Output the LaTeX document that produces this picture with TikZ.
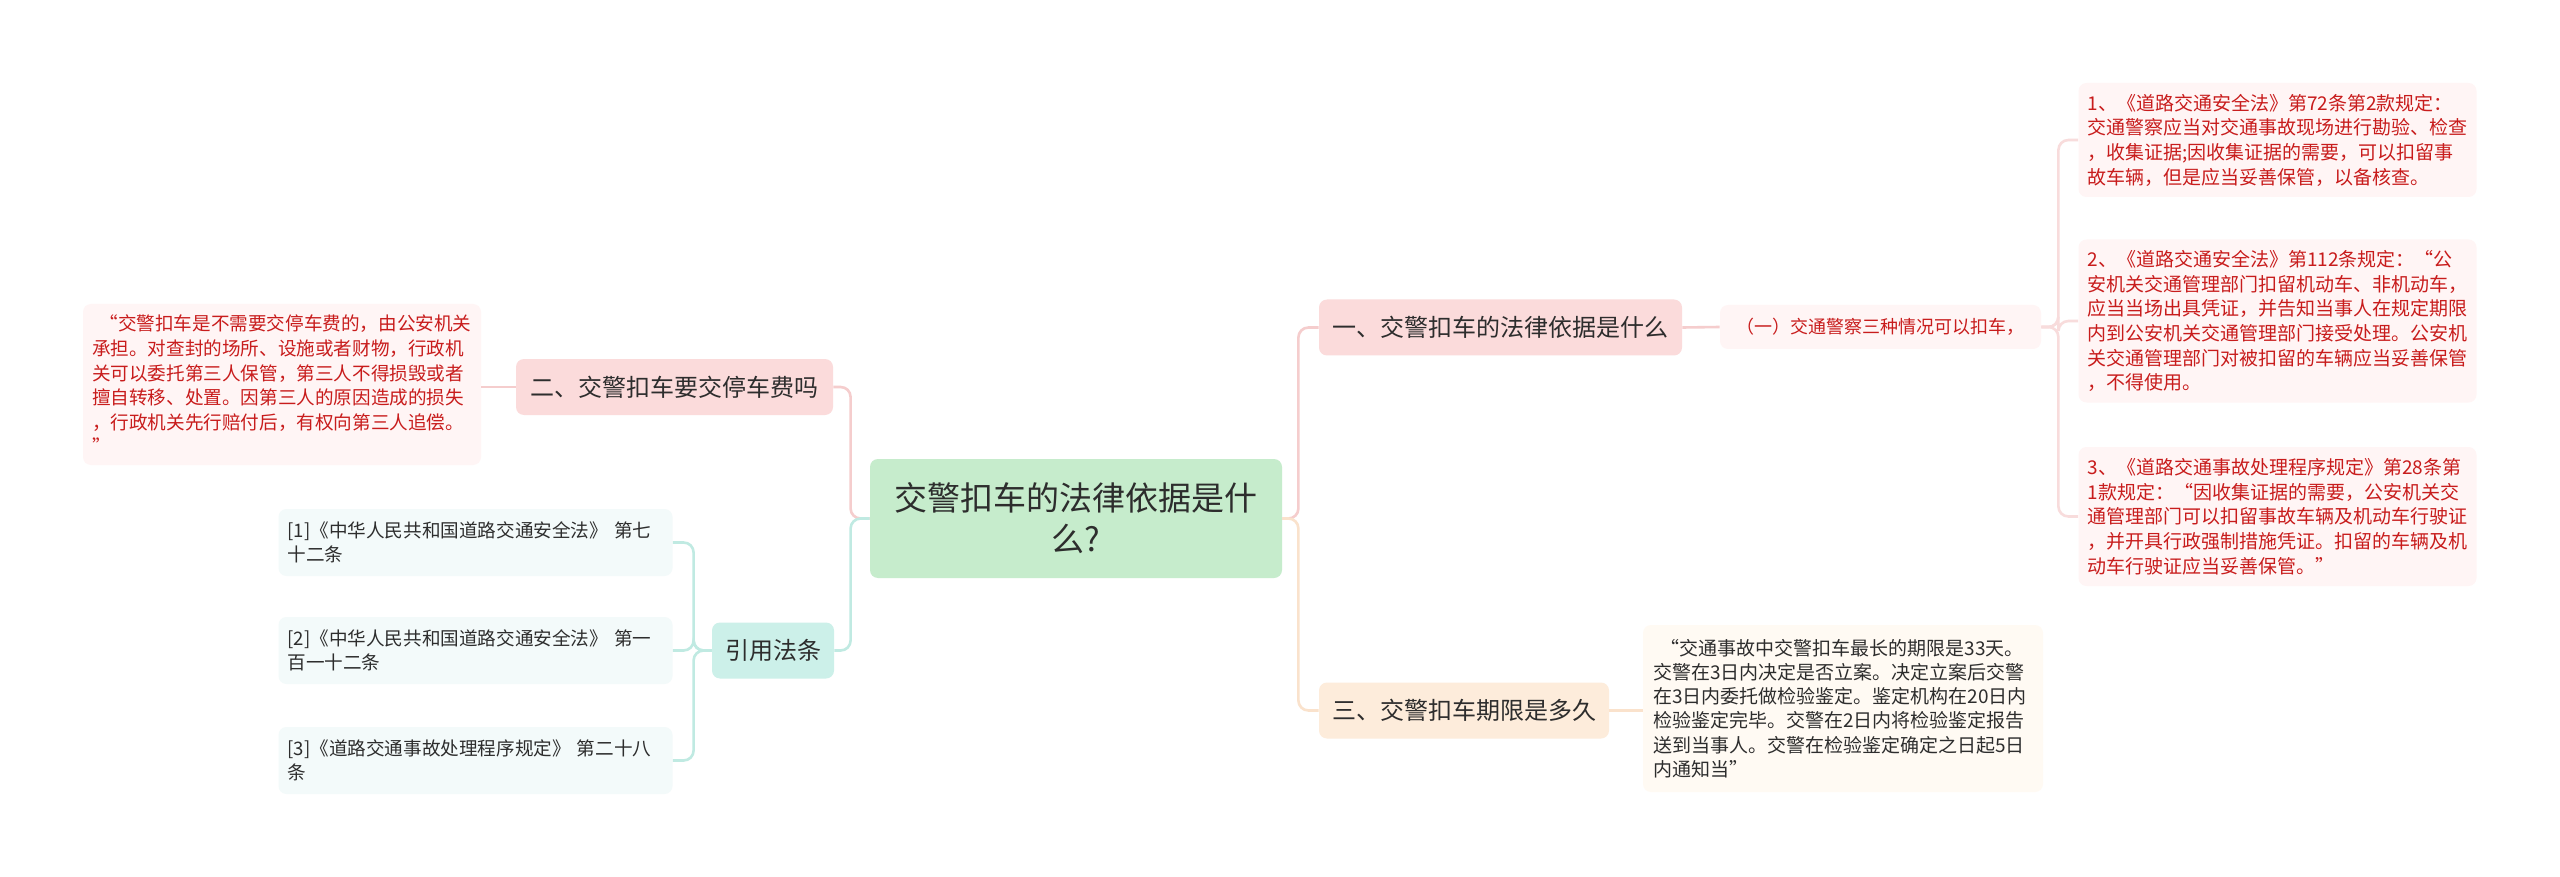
\documentclass[tikz,border=0pt]{standalone}
\usepackage{fontspec}
\setmainfont{Noto Sans CJK SC}

\definecolor{rootfill}{RGB}{198,236,204}
\definecolor{pinkfill}{RGB}{251,219,219}
\definecolor{peachfill}{RGB}{253,236,219}
\definecolor{tealfill}{RGB}{204,240,233}
\definecolor{redleaffill}{RGB}{255,245,245}
\definecolor{creamfill}{RGB}{255,250,243}
\definecolor{reffill}{RGB}{243,250,250}
\definecolor{redtext}{RGB}{200,28,28}
\definecolor{darktext}{RGB}{45,45,45}
\definecolor{pinkline}{RGB}{245,205,205}
\definecolor{leafline}{RGB}{248,220,220}
\definecolor{peachline}{RGB}{250,226,204}
\definecolor{tealline}{RGB}{192,234,226}

\tikzset{
  box/.style={rounded corners=4pt, inner sep=0pt, align=center, text=darktext},
  rootbox/.style={box, fill=rootfill, minimum width=206pt, minimum height=59.5pt,
    font=\fontsize{16.5}{20.5}\selectfont},
  topicbox/.style={box, minimum height=28pt, font=\fontsize{12}{14}\selectfont},
  leafbox/.style={rounded corners=4pt, align=left, inner xsep=4.5pt, inner ysep=3pt,
    text width=190pt, font=\fontsize{9.5}{12.35}\selectfont},
  redleaf/.style={leafbox, fill=redleaffill, text=redtext},
  conn/.style={line width=1.3pt, rounded corners=5pt},
}

\begin{document}
\begin{tikzpicture}[x=0.5pt, y=-0.5pt]
    \useasboundingbox (0,0) rectangle (2560,877);
    \fill[white] (0,0) rectangle (2560,877);

    % centre
    \node[rootbox] (root) at (1076,518.5) {交警扣车的法律依据是什\\么?};

    % right side
    \node[topicbox, fill=pinkfill, minimum width=181.5pt] (law) at (1500.5,327.5) {一、交警扣车的法律依据是什么};
    \node[box, fill=redleaffill, text=redtext, minimum width=160.5pt, minimum height=22pt,
      font=\fontsize{9}{11}\selectfont] (cases) at (1880.5,327) {（一）交通警察三种情况可以扣车，};
    \node[redleaf, minimum height=57pt] (art72) at (2277.5,140) {1、《道路交通安全法》第72条第2款规定：\\交通警察应当对交通事故现场进行勘验、检查\\，收集证据;因收集证据的需要，可以扣留事\\故车辆，但是应当妥善保管，以备核查。};
    \node[redleaf, minimum height=81.5pt] (art112) at (2277.5,321) {2、《道路交通安全法》第112条规定：“公\\安机关交通管理部门扣留机动车、非机动车，\\应当当场出具凭证，并告知当事人在规定期限\\内到公安机关交通管理部门接受处理。公安机\\关交通管理部门对被扣留的车辆应当妥善保管\\，不得使用。};
    \node[redleaf, minimum height=69.5pt] (art28) at (2277.5,516.5) {3、《道路交通事故处理程序规定》第28条第\\1款规定：“因收集证据的需要，公安机关交\\通管理部门可以扣留事故车辆及机动车行驶证\\，并开具行政强制措施凭证。扣留的车辆及机\\动车行驶证应当妥善保管。”};

    \node[topicbox, fill=peachfill, minimum width=145pt] (term) at (1464,710.5) {三、交警扣车期限是多久};
    \node[leafbox, fill=creamfill, text=darktext, minimum height=83.5pt, inner xsep=5pt,
      font=\fontsize{9.5}{12.1}\selectfont] (termtext) at (1843,708.5) {\hspace*{0.4em}“交通事故中交警扣车最长的期限是33天。\\交警在3日内决定是否立案。决定立案后交警\\在3日内委托做检验鉴定。鉴定机构在20日内\\检验鉴定完毕。交警在2日内将检验鉴定报告\\送到当事人。交警在检验鉴定确定之日起5日\\内通知当”};

    % left side
    \node[topicbox, fill=pinkfill, minimum width=158.5pt] (fee) at (674.5,387) {二、交警扣车要交停车费吗};
    \node[redleaf, minimum height=80.5pt, font=\fontsize{9.3}{12.3}\selectfont] (feetext) at (282,384.5) {\hspace*{0.4em}“交警扣车是不需要交停车费的，由公安机关\\承担。对查封的场所、设施或者财物，行政机\\关可以委托第三人保管，第三人不得损毁或者\\擅自转移、处置。因第三人的原因造成的损失\\，行政机关先行赔付后，有权向第三人追偿。\\”};

    \node[topicbox, fill=tealfill, minimum width=61pt] (refs) at (773,650.5) {引用法条};
    \foreach \name/\y/\txt in {ref1/542.5/{[1]《中华人民共和国道路交通安全法》 第七\\十二条},
                                ref2/650.5/{[2]《中华人民共和国道路交通安全法》 第一\\百一十二条},
                                ref3/760.5/{[3]《道路交通事故处理程序规定》 第二十八\\条}}
      \node[leafbox, fill=reffill, text=darktext, text width=188pt, minimum height=33.5pt,
        font=\fontsize{9.3}{12.3}\selectfont] (\name) at (475.5,\y) {\txt};

    % connectors
    \draw[conn, pinkline] (root.east) -- ++(16,0) |- (law.west);
    \draw[conn, peachline] (root.east) -- ++(16,0) |- (term.west);
    \draw[conn, pinkline] (root.west) -- ++(-19,0) |- (fee.east);
    \draw[conn, tealline] (root.west) -- ++(-19,0) |- (refs.east);
    \draw[conn, pinkline] (law.east) -- (cases.west);
    \foreach \leaf in {art72,art112,art28}
      \draw[conn, leafline] (cases.east) -- ++(17,0) |- (\leaf.west);
    \draw[conn, pinkline] (fee.west) -- (fee.west -| feetext.east);
    \foreach \leaf in {ref1,ref2,ref3}
      \draw[conn, tealline] (refs.west) -- ++(-18,0) |- (\leaf.east);
    \draw[conn, peachline] (term.east) -- (term.east -| termtext.west);
\end{tikzpicture}
\end{document}
